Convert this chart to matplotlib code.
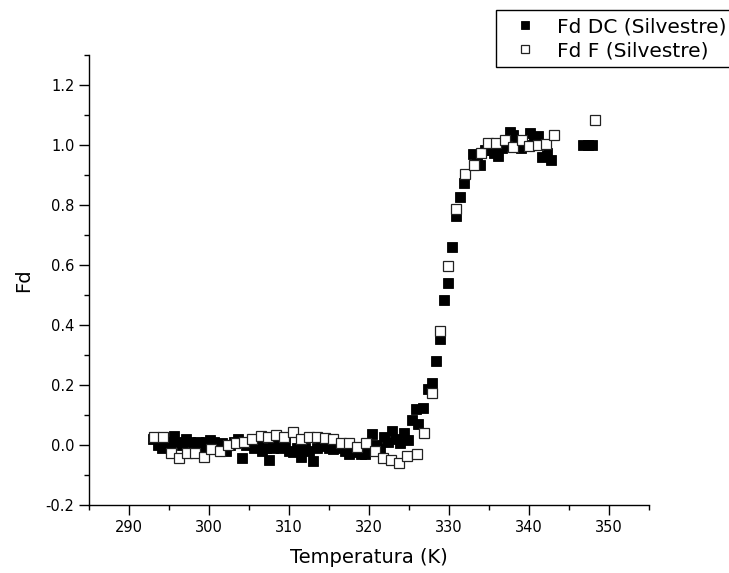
#!/usr/bin/env python3
"""
plot.py

Fd vs temperature (Silvestre data): DC and F measurements.
Saves out.png
"""

import matplotlib
matplotlib.use("Agg")

import matplotlib.pyplot as plt
from matplotlib.ticker import MultipleLocator, FormatStrFormatter

# ============================================================
# DATA
# ============================================================

dc_temp = [
    293.0, 293.6, 294.1, 294.6, 295.1, 295.6, 296.1, 296.6, 297.1, 297.6,
    298.1, 298.6, 299.1, 299.6, 300.1, 300.6, 301.1, 301.6, 302.1, 302.6,
    303.1, 303.6, 304.1, 304.6, 305.1, 305.6, 306.1, 306.6, 307.1, 307.5,
    308.0, 308.5, 309.0, 309.5, 310.0, 310.5, 311.0, 311.5, 312.0, 312.5,
    313.0, 313.5, 314.0, 314.5, 315.0, 315.5, 316.0, 316.5, 317.0, 317.5,
    318.0, 318.5, 319.0, 319.5, 320.0, 320.4, 320.9, 321.4, 321.9, 322.4,
    322.9, 323.4, 323.9, 324.4, 324.9, 325.4, 325.9, 326.1, 326.8, 327.4,
    327.9, 328.4, 328.9, 329.4, 329.9, 330.4, 330.9, 331.4, 331.9, 333.0,
    333.5, 333.9, 334.5, 335.1, 335.6, 336.1, 336.6, 337.1, 337.6, 338.0,
    338.5, 339.0, 339.6, 340.1, 340.6, 341.1, 341.6, 342.2, 342.8, 346.8,
    347.4, 347.9,
]

dc_fd = [
    0.020, 0.000, -0.010, 0.010, 0.000, 0.030, 0.010, 0.000, 0.020, 0.010,
    0.000, 0.010, -0.010, 0.010, 0.015, 0.010, -0.005, 0.005, -0.020, 0.000,
    0.010, 0.020, -0.045, 0.000, 0.010, -0.010, 0.000, -0.020, -0.010, -0.050,
    -0.010, 0.000, -0.010, 0.010, -0.020, -0.025, -0.010, -0.040, -0.010, -0.020,
    -0.055, -0.010, 0.000, -0.005, -0.010, -0.015, -0.010, -0.005, -0.020, -0.030,
    -0.020, -0.025, -0.030, -0.030, -0.010, 0.035, 0.000, -0.010, 0.025, 0.010,
    0.045, 0.020, 0.005, 0.040, 0.015, 0.083, 0.120, 0.070, 0.123, 0.187,
    0.207, 0.280, 0.353, 0.483, 0.540, 0.660, 0.763, 0.827, 0.873, 0.970,
    0.960, 0.933, 0.985, 0.983, 0.975, 0.963, 0.990, 1.000, 1.043, 1.033,
    1.010, 0.990, 1.000, 1.040, 1.020, 1.030, 0.960, 0.975, 0.950, 1.000,
    1.000, 1.000,
]

f_temp = [
    293.1, 294.2, 295.2, 296.2, 297.2, 298.2, 299.4, 300.2, 301.4, 302.4,
    303.4, 304.4, 305.4, 306.5, 307.4, 308.4, 309.4, 310.5, 311.5, 312.5,
    313.5, 314.5, 315.5, 316.5, 317.5, 318.5, 319.6, 320.7, 321.7, 322.7,
    323.7, 324.7, 326.0, 326.9, 327.9, 328.9, 329.9, 330.9, 332.0, 333.1,
    334.0, 334.9, 335.9, 337.0, 338.0, 339.1, 340.0, 341.1, 342.1, 343.1,
    348.3,
]

f_fd = [
    0.027, 0.027, -0.027, -0.045, -0.027, -0.027, -0.040, -0.013, -0.020, 0.000,
    0.007, 0.010, 0.020, 0.030, 0.027, 0.033, 0.027, 0.043, 0.020, 0.027,
    0.027, 0.023, 0.020, 0.007, 0.007, -0.007, 0.007, -0.020, -0.043, -0.050,
    -0.060, -0.037, -0.030, 0.040, 0.173, 0.380, 0.597, 0.787, 0.903, 0.933,
    0.973, 1.007, 1.007, 1.017, 0.993, 1.017, 0.997, 1.000, 1.003, 1.033,
    1.083,
]

labels = ["Fd DC (Silvestre)", "Fd F (Silvestre)"]

# ============================================================
# PLOT
# ============================================================

def main():

    plt.rcParams["font.family"] = ["DejaVu Sans"]
    plt.rcParams["axes.unicode_minus"] = False

    fig = plt.figure(figsize=(7.29, 5.73), dpi=100)
    ax = fig.add_axes([0.1221, 0.1187, 0.7682, 0.7853])

    ax.plot(
        dc_temp, dc_fd,
        linestyle="none",
        marker="s",
        markersize=6.6,
        markerfacecolor="black",
        markeredgecolor="black",
        markeredgewidth=0.6,
        label=labels[0],
        zorder=2,
    )

    ax.plot(
        f_temp, f_fd,
        linestyle="none",
        marker="s",
        markersize=6.6,
        markerfacecolor="white",
        markeredgecolor="#222222",
        markeredgewidth=0.9,
        label=labels[1],
        zorder=3,
    )

    ax.set_xlim(285, 355)
    ax.set_ylim(-0.2, 1.3)

    ax.xaxis.set_major_locator(MultipleLocator(10))
    ax.xaxis.set_minor_locator(MultipleLocator(5))
    ax.yaxis.set_major_locator(MultipleLocator(0.2))
    ax.yaxis.set_minor_locator(MultipleLocator(0.1))
    ax.yaxis.set_major_formatter(FormatStrFormatter("%.1f"))

    ax.set_xticks([290, 300, 310, 320, 330, 340, 350])
    ax.set_yticks([-0.2, 0.0, 0.2, 0.4, 0.6, 0.8, 1.0, 1.2])

    ax.spines["top"].set_visible(False)
    ax.spines["right"].set_visible(False)
    ax.spines["left"].set_linewidth(1.0)
    ax.spines["bottom"].set_linewidth(1.0)

    ax.tick_params(which="major", direction="out", length=7, width=1.0,
                   labelsize=10.5)
    ax.tick_params(which="minor", direction="out", length=3.5, width=1.0)

    ax.set_xlabel("Temperatura (K)", fontsize=14, labelpad=10)
    ax.set_ylabel("Fd", fontsize=14, labelpad=9)

    leg = fig.legend(
        loc="upper left",
        bbox_to_anchor=(496 / 729, 1 - 10 / 573),
        borderaxespad=0.0,
        fontsize=14.5,
        frameon=True,
        fancybox=False,
        framealpha=1.0,
        edgecolor="black",
        borderpad=0.35,
        labelspacing=0.25,
        handlelength=2.2,
        handletextpad=0.5,
        markerscale=0.8,
    )
    leg.get_frame().set_linewidth(1.0)

    fig.savefig("out.png", dpi=100)
    plt.close(fig)


if __name__ == "__main__":
    main()
